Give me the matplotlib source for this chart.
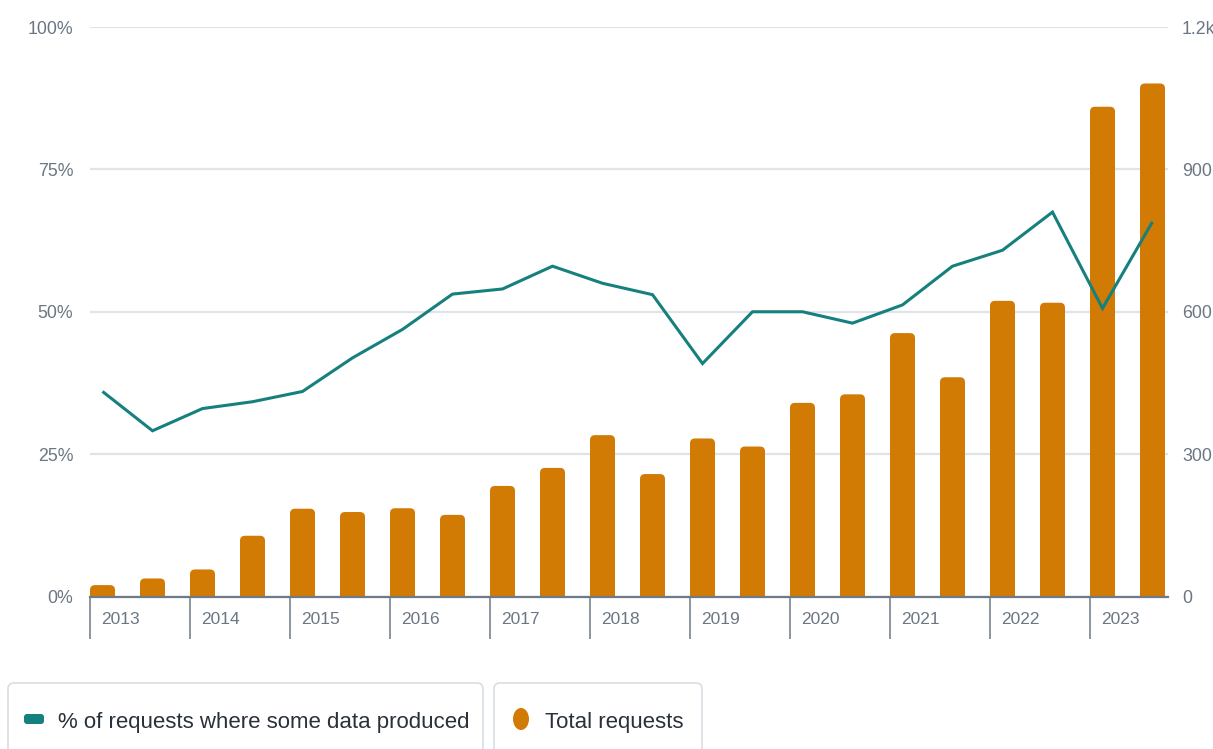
import matplotlib
matplotlib.use('Agg')
import matplotlib.pyplot as plt
import matplotlib.transforms as mtransforms
from matplotlib.patches import FancyBboxPatch, Rectangle, Ellipse
import numpy as np

# ---------------- data ----------------
years = ['2013', '2014', '2015', '2016', '2017', '2018',
         '2019', '2020', '2021', '2022', '2023']
total_requests = [24, 38, 57, 128, 185, 178, 186, 172, 233, 271, 340,
                  258, 333, 316, 408, 426, 555, 462, 623, 619, 1032, 1081]
pct_some_data = [36.0, 29.1, 33.0, 34.2, 36.0, 41.9, 46.9, 53.1, 54.0, 58.0,
                 55.0, 53.0, 40.9, 50.0, 50.0, 48.0, 51.2, 58.0, 60.8, 67.5,
                 50.6, 65.8]
left_ticks = [0, 25, 50, 75, 100]
left_labels = ['0%', '25%', '50%', '75%', '100%']
right_ticks = [0, 300, 600, 900, 1200]
right_labels = ['0', '300', '600', '900', '1.2k']
series_names = ['% of requests where some data produced', 'Total requests']

# ---------------- style ----------------
plt.rcParams['font.family'] = ['Liberation Sans', 'DejaVu Sans']
TEAL = '#15807e'
ORANGE = '#d17a04'
GRID = '#e0e3e8'
TICK_TXT = '#6b7683'
AXIS = '#6f7a86'
LEG_TXT = '#2a313a'

W, H = 1213, 749
fig = plt.figure(figsize=(W / 100, H / 100), dpi=100)
L, R, T, B = 90, 1168, 27, 596.5
ax = fig.add_axes([L / W, 1 - B / H, (R - L) / W, (B - T) / H])
ax2 = ax.twinx()
ax.set_zorder(2)
ax2.set_zorder(1)
ax.patch.set_visible(False)

x = np.arange(len(total_requests))
XMAX = 21.56
ax.set_xlim(0, XMAX)
ax.set_ylim(0, 100)
ax2.set_ylim(0, 1200)

# bars (right axis) with rounded tops
bars = ax2.bar(x, total_requests, width=0.5, align='edge', color=ORANGE, zorder=2)
px_x = XMAX / (R - L)          # x data units per pixel
px_y = 1200 / (B - T)           # y data units per pixel
r_px = 5
for b in bars:
    x0, w, h = b.get_x(), b.get_width(), b.get_height()
    b.set_visible(False)
    rr = r_px * px_x
    asp = px_y / px_x
    ax2.add_patch(FancyBboxPatch((x0, 0), w, h,
                                 boxstyle=f"round,pad=0,rounding_size={rr}",
                                 mutation_aspect=asp, fc=ORANGE, ec='none', zorder=2))
    ax2.add_patch(Rectangle((x0, 0), w, h / 2, fc=ORANGE, ec='none', zorder=2))

# line (left axis)
ax.plot(x + 0.25, pct_some_data, color=TEAL, lw=2.2, zorder=3,
        solid_joinstyle='miter', solid_capstyle='butt')

# grid on right axis (below bars)
ax2.set_axisbelow(True)
ax2.set_yticks(right_ticks)
ax2.set_yticklabels(right_labels)
ax2.grid(axis='y', color=GRID, lw=1.6)
ax.set_yticks(left_ticks)
ax.set_yticklabels(left_labels)

for a in (ax, ax2):
    for s in a.spines.values():
        s.set_visible(False)
ax.spines['bottom'].set_visible(True)
ax.spines['bottom'].set_color(AXIS)
ax.spines['bottom'].set_linewidth(1.6)

ax.tick_params(axis='y', length=0, pad=12, labelsize=12.8, labelcolor=TICK_TXT)
ax2.tick_params(axis='y', length=0, pad=10, labelsize=12.8, labelcolor=TICK_TXT)

year_pos = x[::2]
ax.set_xticks(year_pos)
ax.set_xticklabels([''] * len(year_pos))
ax.tick_params(axis='x', direction='out', length=30, width=1.1, color=AXIS)

lab_tr = mtransforms.blended_transform_factory(ax.transData, ax.transAxes) + \
    mtransforms.ScaledTranslation(11.5 / 100, -23 / 100, fig.dpi_scale_trans)
for p, yl in zip(year_pos, years):
    ax.text(p, 0, yl, transform=lab_tr, ha='left', va='center',
            fontsize=12.5, color=TICK_TXT)

# ---------------- legend ----------------
pxt = mtransforms.Affine2D().scale(1 / W, 1 / H) + fig.transFigure
fig.add_artist(FancyBboxPatch((8, -20), 475, 86, boxstyle="round,pad=0,rounding_size=6",
                              fc='white', ec='#d9dee4', lw=1.2, transform=pxt))
fig.add_artist(FancyBboxPatch((494, -20), 208, 86, boxstyle="round,pad=0,rounding_size=6",
                              fc='white', ec='#d9dee4', lw=1.2, transform=pxt))
fig.add_artist(FancyBboxPatch((24, 25), 20, 10, boxstyle="round,pad=0,rounding_size=3",
                              fc=TEAL, ec='none', transform=pxt))
fig.add_artist(Ellipse((521, 30), 16, 22, fc=ORANGE, ec='none', transform=pxt))
fig.text(58 / W, 21 / H, series_names[0], ha='left', va='baseline',
         fontsize=16, color=LEG_TXT)
fig.text(545 / W, 21 / H, series_names[1], ha='left', va='baseline',
         fontsize=16, color=LEG_TXT)

fig.savefig('out.png', dpi=100, facecolor='white')
